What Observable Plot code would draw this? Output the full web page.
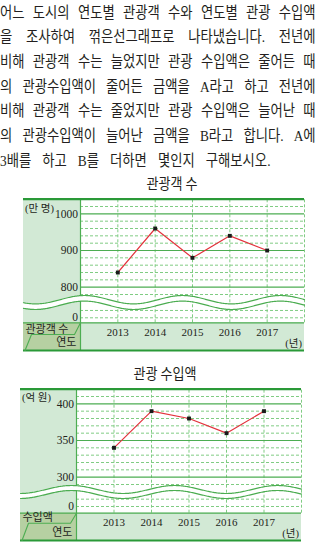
<!DOCTYPE html>
<html><head><meta charset="utf-8">
<script src="https://cdn.jsdelivr.net/npm/d3@7"></script>
<script src="https://cdn.jsdelivr.net/npm/@observablehq/plot@0.6"></script>
<style>
body{margin:0;width:320px;height:543px;overflow:hidden;background:#fff;position:relative;color:#231f20}
.ln{position:absolute;left:0;width:367px;white-space:nowrap;font-family:"Liberation Serif","Noto Sans CJK KR",serif;font-size:15.5px;line-height:18px;transform-origin:0 0;transform:scaleX(0.86);word-spacing:3px;text-align:justify;text-align-last:justify}
.ln.last{text-align-last:left;word-spacing:9px}
.ttl{position:absolute;font-family:"Noto Sans CJK KR",sans-serif;font-size:14.5px;line-height:18px;white-space:nowrap;transform:translateX(-50%) scaleX(0.9)}
svg.chart{position:absolute;left:0}
</style></head>
<body>
<script>
// ---- text ----
const questionLines = [
  "어느 도시의 연도별 관광객 수와 연도별 관광 수입액",
  "을 조사하여 꺾은선그래프로 나타냈습니다. 전년에",
  "비해 관광객 수는 늘었지만 관광 수입액은 줄어든 때",
  "의 관광수입액이 줄어든 금액을 A라고 하고 전년에",
  "비해 관광객 수는 줄었지만 관광 수입액은 늘어난 때",
  "의 관광수입액이 늘어난 금액을 B라고 합니다. A에",
  "3배를 하고 B를 더하면 몇인지 구해보시오."
];
const titles = ["관광객 수", "관광 수입액"];

// ---- data ----
const years = [2013, 2014, 2015, 2016, 2017];
const visitors = [840, 960, 880, 940, 900];        // 만 명
const revenue = [340, 390, 380, 360, 390];          // 억 원
const xGridYears = [2013, 2014, 2015, 2016, 2017, 2018];
const visitorMajor = [800, 900, 1000];
const visitorMinor = [0, 20, 780, 820, 840, 860, 880, 920, 940, 960, 980, 1020];
const visitorTicks = [0, 800, 900, 1000];
const revenueMajor = [300, 350, 400];
const revenueMinor = [0, 10, 290, 310, 320, 330, 340, 360, 370, 380, 390, 410];
const revenueTicks = [0, 300, 350, 400];

const LIGHT = "#d2e9d5", SAGE = "#b6d0a2", SOLID = "#4dad52", DASH = "#80cc83",
      BORDER = "#2a9938", RED = "#e3323c", INK = "#231f20";
const SERIF = "Liberation Serif, Noto Sans CJK KR, serif";
const KR = "Noto Sans CJK KR, sans-serif";

const lineCenters = [12.5, 37.2, 61.9, 86.6, 111.3, 136, 160.7];
questionLines.forEach((t, i) => {
  const d = document.createElement("div");
  d.className = "ln" + (i === questionLines.length - 1 ? " last" : "");
  d.style.top = (lineCenters[i] - 9) + "px";
  d.textContent = t;
  document.body.appendChild(d);
});

function addTitle(text, cx, cy) {
  const d = document.createElement("div");
  d.className = "ttl";
  d.style.left = cx + "px";
  d.style.top = (cy - 9) + "px";
  d.textContent = text;
  document.body.appendChild(d);
}

function buildChart(cfg) {
  // axis break: values below cfg.breakAt are shifted up to sit just under the break
  const brk = v => (v < cfg.breakAt ? v + cfg.shift : v);
  const xs = d3.scaleLinear().domain([2012, 2018]).range([cfg.plotLeft, cfg.plotRight]);
  const ys = d3.scaleLinear().domain(cfg.yDomain).range(cfg.yRange);
  const Y = px => ys.invert(px);
  const X0 = xs.invert(cfg.boxLeft), XP = 2012, X1 = 2018;
  const yTop = cfg.yDomain[1];
  const yBand = Y(cfg.bandTop), yBot = Y(cfg.bottom), yMid = Y(cfg.mid);
  const wave = d3.range(cfg.boxLeft, cfg.plotRight + 1, 1).map(px => {
    const u = cfg.waveUpper - cfg.waveA * Math.cos(2 * Math.PI * (px - cfg.wavePeak) / cfg.waveP);
    return {x: xs.invert(px), hi: Y(u), lo: Y(u + cfg.waveGap)};
  });
  const zPts = [
    {x: XP, y: yBand},
    {x: xs.invert(cfg.plotLeft - 6), y: yMid},
    {x: xs.invert(cfg.boxLeft + 8), y: yMid},
    {x: xs.invert(cfg.boxLeft + 1.5), y: yBot}
  ];
  const series = years.map((year, i) => ({year, v: cfg.values[i]}));
  const svg = Plot.plot({
    width: 320,
    height: cfg.height,
    x: {domain: [2012, 2018], range: [cfg.plotLeft, cfg.plotRight], axis: null},
    y: {domain: cfg.yDomain, range: cfg.yRange, axis: null},
    style: {background: "transparent", overflow: "visible", fontFamily: SERIF, fontSize: "11px"},
    marks: [
      Plot.rect([0], {x1: X0, x2: XP, y1: yBand, y2: yTop, fill: LIGHT}),
      Plot.rect([0], {x1: XP, x2: X1, y1: yBot, y2: yBand, fill: LIGHT}),
      Plot.rect([0], {x1: X0, x2: XP, y1: yBot, y2: yBand, fill: SAGE}),
      Plot.ruleY(cfg.minor, {y: d => brk(d), x1: XP, x2: X1, stroke: DASH, strokeWidth: 1, strokeDasharray: "3,2"}),
      Plot.ruleX(xGridYears, {y1: yBand, y2: yTop, stroke: DASH, strokeWidth: 1, strokeDasharray: "3,2"}),
      Plot.ruleY(cfg.major, {y: d => brk(d), x1: XP, x2: X1, stroke: SOLID, strokeWidth: 1.2}),
      Plot.ruleX([XP], {y1: yBot, y2: yTop, stroke: SOLID, strokeWidth: 1.2}),
      Plot.areaY(wave, {x: "x", y1: "lo", y2: "hi", fill: "white"}),
      Plot.line(wave, {x: "x", y: "hi", stroke: SOLID, strokeWidth: 1.2}),
      Plot.line(wave, {x: "x", y: "lo", stroke: SOLID, strokeWidth: 1.2}),
      Plot.ruleY([yBand], {x1: X0, x2: X1, stroke: SOLID, strokeWidth: 1.2}),
      Plot.ruleY([yTop], {x1: X0, x2: X1, stroke: BORDER, strokeWidth: 2.2}),
      Plot.ruleY([yBot], {x1: X0, x2: X1, stroke: BORDER, strokeWidth: 2.2}),
      Plot.line(zPts, {x: "x", y: "y", stroke: SOLID, strokeWidth: 1.1}),
      Plot.line(series, {x: "year", y: d => brk(d.v), stroke: RED, strokeWidth: 1.2}),
      Plot.dot(series, {x: "year", y: d => brk(d.v), symbol: "square", r: 2.2, fill: "#1a1a1a"}),
      Plot.text(cfg.ticks, {x: XP, y: d => brk(d), text: d => String(d), textAnchor: "end", dx: -2.5, fontFamily: SERIF, fontSize: 11.5, fill: INK}),
      Plot.text(years, {x: d => d, y: Y(cfg.xLabelY), text: d => String(d), fontFamily: SERIF, fontSize: 11, fill: INK}),
      Plot.text([cfg.unit], {x: X0, y: Y(cfg.unitY), dx: 1.5, text: d => d, textAnchor: "start", fontFamily: SERIF, fontSize: 10.5, fill: INK}),
      Plot.text(["(년)"], {x: X1, y: Y(cfg.yearUnitY), dx: -2.5, text: d => d, textAnchor: "end", fontFamily: SERIF, fontSize: 10.5, fill: INK}),
      Plot.text([cfg.header], {x: X0, y: Y(cfg.headerY), dx: 2, text: d => d, textAnchor: "start", fontFamily: KR, fontSize: 11, fill: INK}),
      Plot.text(["연도"], {x: XP, y: Y(cfg.yearHeadY), dx: -4, text: d => d, textAnchor: "end", fontFamily: KR, fontSize: 11, fill: INK})
    ]
  });
  svg.classList.add("chart");
  svg.style.top = cfg.top + "px";
  document.body.appendChild(svg);
}

addTitle(titles[0], 171.7, 183);
buildChart({
  top: 190, height: 162, boxLeft: 23, plotLeft: 80, plotRight: 304,
  yDomain: [716.5, 1040], yRange: [127.3, 8.67], breakAt: 400, shift: 716.5,
  bandTop: 132.3, bottom: 160, mid: 144,
  waveUpper: 109.2, waveGap: 5.6, waveA: 4.2, waveP: 98, wavePeak: 280,
  xLabelY: 141.7, unitY: 18.3, yearUnitY: 153.3, headerY: 138.5, yearHeadY: 152,
  values: visitors, major: visitorMajor, minor: visitorMinor, ticks: visitorTicks,
  unit: "(만 명)", header: "관광객 수"
});

addTitle(titles[1], 165, 373);
buildChart({
  top: 380, height: 163, boxLeft: 20, plotLeft: 76, plotRight: 301,
  yDomain: [260, 420], yRange: [126, 8.67], breakAt: 150, shift: 260,
  bandTop: 132.7, bottom: 160, mid: 142.7,
  waveUpper: 109, waveGap: 5, waveA: 4, waveP: 103, wavePeak: 277,
  xLabelY: 142.3, unitY: 16.7, yearUnitY: 152.7, headerY: 136.7, yearHeadY: 151.7,
  values: revenue, major: revenueMajor, minor: revenueMinor, ticks: revenueTicks,
  unit: "(억 원)", header: "수입액"
});
</script>
</body></html>
